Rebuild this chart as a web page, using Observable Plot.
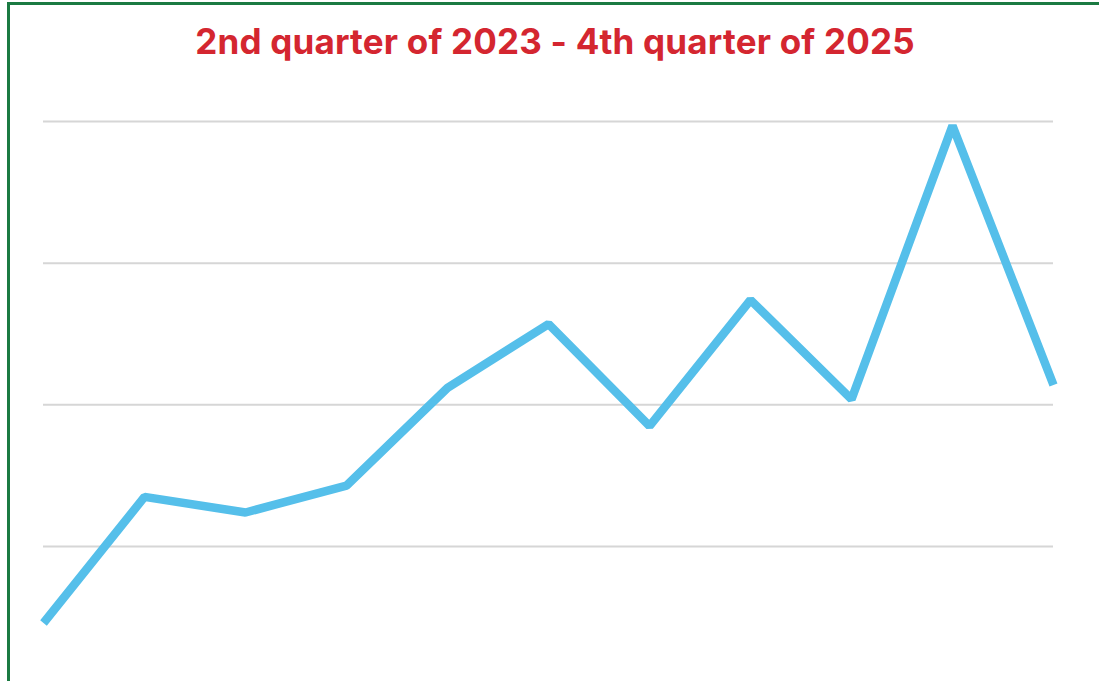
<!DOCTYPE html>
<html>
<head>
<meta charset="utf-8">
<script src="https://cdn.jsdelivr.net/npm/d3@7"></script>
<script src="https://cdn.jsdelivr.net/npm/@observablehq/plot@0.6"></script>
<style>
  html, body { margin: 0; padding: 0; background: #fff; }
  #wrap { position: relative; width: 1099px; height: 681px; overflow: hidden; }
  #frame { position: absolute; left: 7px; top: 2px; right: -10px; bottom: -10px;
           border-left: 3px solid #1b7a42; border-top: 3px solid #1b7a42; }
  #title { position: absolute; left: 0; width: 1110px; top: 20px; text-align: center;
           font-family: Inter, "Open Sans", sans-serif; font-weight: 700; font-size: 35px;
           line-height: 42px; color: #d42630; margin: 0; letter-spacing: 0.2px; }
  #chart { position: absolute; left: 0; top: 0; }
</style>
</head>
<body>
<div id="wrap">
  <div id="frame"></div>
  <div id="chart"></div>
  <h2 id="title">2nd quarter of 2023 - 4th quarter of 2025</h2>
</div>
<script>
const quarters = ["Q2 2023","Q3 2023","Q4 2023","Q1 2024","Q2 2024","Q3 2024","Q4 2024","Q1 2025","Q2 2025","Q3 2025","Q4 2025"];
const values = [0.46, 1.35, 1.24, 1.43, 2.12, 2.57, 1.85, 2.74, 2.04, 3.97, 2.14];
const gridTicks = [1, 2, 3, 4];

const data = quarters.map((q, i) => ({q, i, v: values[i]}));

const plot = Plot.plot({
  width: 1099,
  height: 681,
  marginLeft: 43,
  marginRight: 46,
  marginTop: 121,
  marginBottom: 35.83,
  x: {domain: [0, quarters.length - 1], axis: null},
  y: {domain: [0.3, 4], axis: null},
  style: {background: "transparent"},
  marks: [
    Plot.ruleY(gridTicks, {stroke: "#d6d6d6", strokeWidth: 2}),
    Plot.line(data, {x: "i", y: "v", stroke: "#55bfea", strokeWidth: 8.5,
                     strokeLinejoin: "miter", strokeLinecap: "butt"})
  ]
});
document.getElementById("chart").appendChild(plot);
</script>
</body>
</html>
